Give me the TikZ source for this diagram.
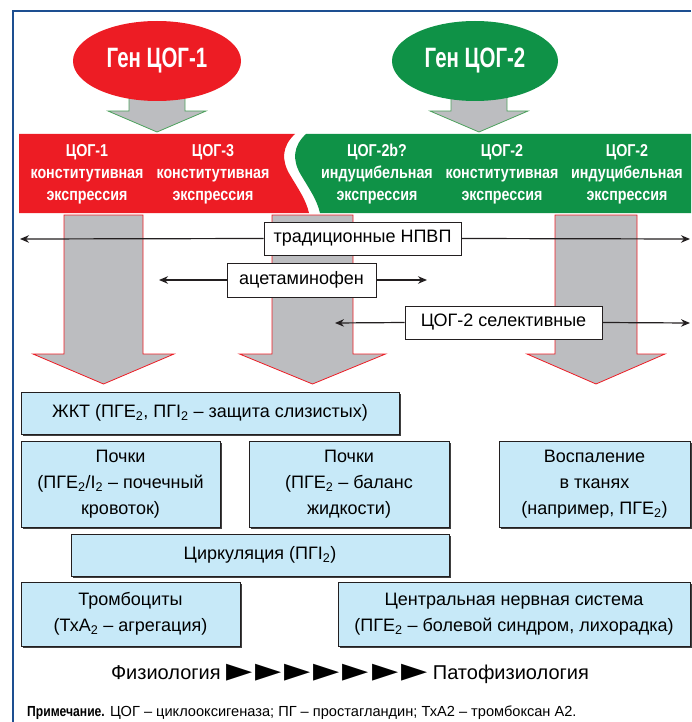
\documentclass[tikz,border=0pt]{standalone}
\usepackage{fontspec}
\setmainfont{Liberation Sans}
\newfontfamily\condfont{Liberation Sans}[FakeStretch=0.83]
\newfontfamily\genefont{Liberation Sans}[FakeStretch=0.73]
\newfontfamily\symfont{DejaVu Sans}
\usetikzlibrary{shapes.geometric,arrows.meta,shadows}
\definecolor{coxred}{HTML}{ED1C24}
\definecolor{coxgreen}{HTML}{0F9247}
\definecolor{arrowgray}{HTML}{BCBDC0}
\definecolor{genline}{HTML}{4FA25F}
\definecolor{boxblue}{HTML}{C7E9F8}
\definecolor{frameblue}{HTML}{1D4F91}
\definecolor{ink}{HTML}{231F20}

% block arrow pointing down: centre x, shaft half width, head half width,
% top y, y where the head starts, tip y, outline colour
\newcommand\grayarrow[7]{%
  \filldraw[fill=arrowgray,draw=#7,line width=0.8]
    (#1-#2,#4) -- (#1+#2,#4) -- (#1+#2,#5) -- (#1+#3,#5) -- (#1,#6)
    -- (#1-#3,#5) -- (#1-#2,#5) -- cycle;}
% pointers of the physiology scale
\newcommand\scaletip{{\symfont\fontsize{34}{34}\selectfont ►}}
\newcommand\scalegap{\hspace{3pt}}

\begin{document}
\begin{tikzpicture}[x=1pt,y=-1pt,
  gene/.style={ellipse,inner sep=0,minimum width=168pt,minimum height=80pt,
    text=white,font=\genefont\bfseries\fontsize{28}{30}\selectfont},
  bandtext/.style={align=center,text=white,inner sep=0,
    font=\condfont\bfseries\fontsize{17.2}{22}\selectfont},
  drug/.style={draw=ink,line width=0.9,fill=white,inner sep=0,
    minimum height=33pt,font=\fontsize{18}{20}\selectfont,
    drop shadow={shadow xshift=1.2pt,shadow yshift=-1.2pt,fill=black!70,opacity=1}},
  organ/.style={draw=ink,line width=0.8,fill=boxblue,inner sep=0,align=center,
    font=\fontsize{18}{26}\selectfont,
    drop shadow={shadow xshift=1.6pt,shadow yshift=-1.6pt,fill=black!75,opacity=1}},
  span/.style={draw=ink,line width=1.2,-{Stealth[length=9pt,width=7.5pt]}},
]
\useasboundingbox (0,0) rectangle (691,722);

% frame
\draw[frameblue,line width=2] (13,722) -- (13,11) -- (691,11);

% arrows from the genes
\grayarrow{157}{28}{49}{90}{111}{132}{genline}
\grayarrow{479}{28}{49}{90}{111}{132}{genline}

% genes
\node[gene,fill=coxred] (gen1) at (157,61) {Ген ЦОГ-1};
\node[gene,fill=coxgreen,minimum width=166pt] (gen2) at (475,61) {Ген ЦОГ-2};

% expression bands
\fill[coxred] (19,134) -- (295,134)
  .. controls (282,146) and (281,160) .. (290,175)
  .. controls (299,190) and (306,200) .. (309,213) -- (19,213) -- cycle;
\fill[coxgreen] (306,134) -- (691,134) -- (691,213) -- (320,213)
  .. controls (317,200) and (310,190) .. (301,175)
  .. controls (292,160) and (293,146) .. (306,134) -- cycle;

\node[bandtext] (cox1) at (87,174) {ЦОГ-1\\конститутивная\\экспрессия};
\node[bandtext] (cox3) at (213,174) {ЦОГ-3\\конститутивная\\экспрессия};
\node[bandtext] (cox2b) at (377,174) {ЦОГ-2b?\\индуцибельная\\экспрессия};
\node[bandtext] (cox2c) at (502,174) {ЦОГ-2\\конститутивная\\экспрессия};
\node[bandtext] (cox2i) at (627,174) {ЦОГ-2\\индуцибельная\\экспрессия};

% big arrows down to the tissues
\grayarrow{103.5}{39.5}{70.5}{215}{354}{384}{coxred}
\grayarrow{312.5}{40.5}{73}{215}{354}{384}{coxred}
\grayarrow{596}{41}{69}{215}{354}{384}{coxred}

% drug classes and their ranges
\coordinate (nsL) at (20,239);
\coordinate (nsR) at (690,239);
\coordinate (acL) at (159,280);
\coordinate (acR) at (427,280);
\coordinate (cxL) at (335,323);
\coordinate (cxR) at (690,323);
\node[drug,minimum width=197pt] (nsaid) at (362.5,238.5) {традиционные НПВП};
\node[drug,minimum width=149pt,minimum height=34pt] (acet) at (301.5,280) {ацетаминофен};
\node[drug,minimum width=197pt] (coxsel) at (503.5,322.5) {ЦОГ-2 селективные};
\draw[span] (nsaid.west) -- (nsL);
\draw[span] (nsaid.east) -- (nsR);
\draw[span] (acet.west) -- (acL);
\draw[span] (acet.east) -- (acR);
\draw[span] (coxsel.west) -- (cxL);
\draw[span] (coxsel.east) -- (cxR);

% tissues
\node[organ,minimum width=378pt,minimum height=42pt] (gi) at (210,413)
  {ЖКТ (ПГЕ\textsubscript{2}, ПГI\textsubscript{2} – защита слизистых)};
\node[organ,minimum width=199pt,minimum height=86pt] (kid1) at (120.5,484)
  {Почки\\(ПГЕ\textsubscript{2}/I\textsubscript{2} – почечный\\кровоток)};
\node[organ,minimum width=200pt,minimum height=86pt] (kid2) at (349,484)
  {Почки\\(ПГЕ\textsubscript{2} – баланс\\жидкости)};
\node[organ,minimum width=191pt,minimum height=86pt] (infl) at (594.5,484)
  {Воспаление\\в тканях\\(например, ПГЕ\textsubscript{2})};
\node[organ,minimum width=378pt,minimum height=42pt] (circ) at (260,555)
  {Циркуляция (ПГI\textsubscript{2})};
\node[organ,minimum width=219pt,minimum height=64pt] (plt) at (130.5,614)
  {Тромбоциты\\(ТхА\textsubscript{2} – агрегация)};
\node[organ,minimum width=352pt,minimum height=64pt] (cns) at (514,614)
  {Центральная нервная система\\(ПГЕ\textsubscript{2} – болевой синдром, лихорадка)};

% scale from physiology to pathophysiology
\node[font=\fontsize{20}{24}\selectfont] (scale) at (350,674)
  {Физиология \raisebox{-1.5pt}{\scaletip\scalegap\scaletip\scalegap\scaletip\scalegap\scaletip\scalegap\scaletip\scalegap\scaletip\scalegap\scaletip} Патофизиология};

% note
\node[anchor=west,inner sep=0,font=\fontsize{14.6}{16}\selectfont] (note) at (27,713)
  {{\condfont\bfseries Примечание.} ЦОГ – циклооксигеназа; ПГ – простагландин; ТхА2 – тромбоксан А2.};
\end{tikzpicture}
\end{document}
